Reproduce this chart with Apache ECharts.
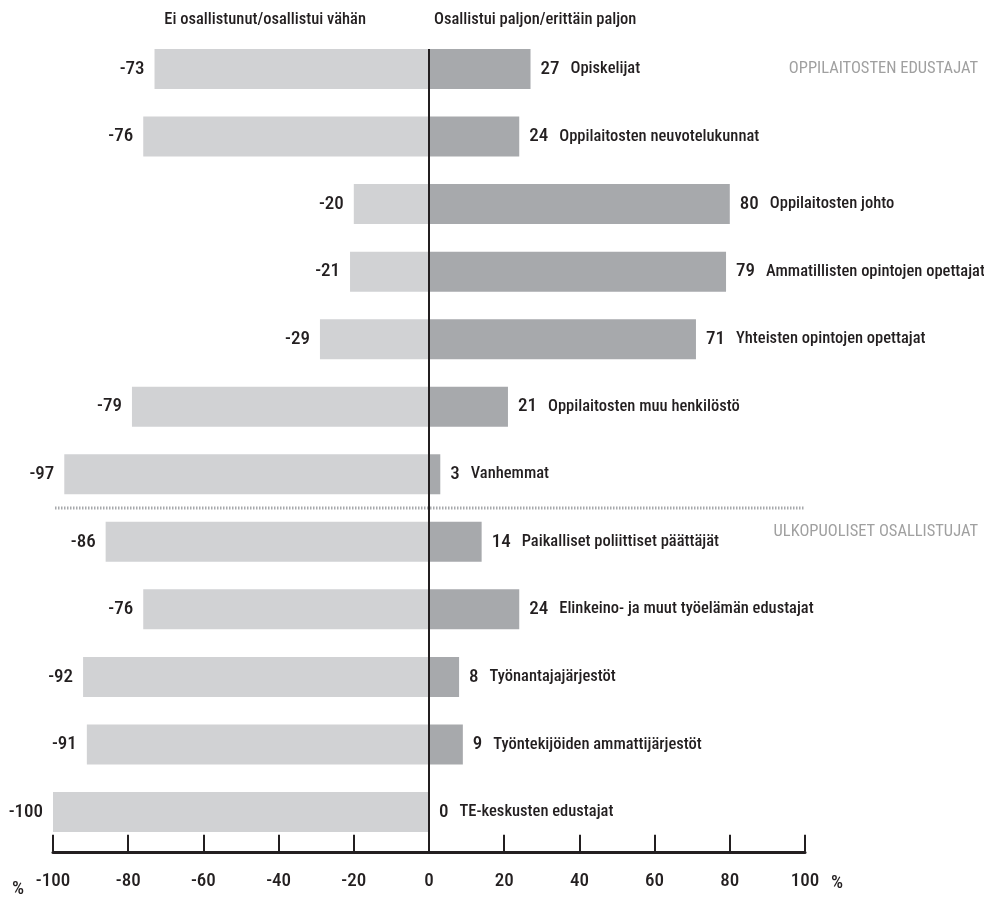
<!DOCTYPE html>
<html>
<head>
<meta charset="utf-8">
<script src="https://cdn.jsdelivr.net/npm/echarts@6/dist/echarts.min.js"></script>
<style>html,body{margin:0;padding:0;background:#fff}#c{width:984px;height:902px}</style>
</head>
<body>
<div id="c"></div>
<script>
var categories = ['Opiskelijat','Oppilaitosten neuvotelukunnat','Oppilaitosten johto','Ammatillisten opintojen opettajat','Yhteisten opintojen opettajat','Oppilaitosten muu henkilöstö','Vanhemmat','Paikalliset poliittiset päättäjät','Elinkeino- ja muut työelämän edustajat','Työnantajajärjestöt','Työntekijöiden ammattijärjestöt','TE-keskusten edustajat'];
var lowValues = [-73,-76,-20,-21,-29,-79,-97,-86,-76,-92,-91,-100];
var highValues = [27,24,80,79,71,21,3,14,24,8,9,0];
var xTicks = [-100,-80,-60,-40,-20,0,20,40,60,80,100];
var headerLow = 'Ei osallistunut/osallistui vähän';
var headerHigh = 'Osallistui paljon/erittäin paljon';
var groupNames = ['OPPILAITOSTEN EDUSTAJAT','ULKOPUOLISET OSALLISTUJAT'];
var groupStart = [0, 7];

var FONT = '"Roboto Condensed","DejaVu Sans Condensed",sans-serif';
var FS = 16.5, FN = 19, FW = 500;
var INK = '#231f20';
var chart = echarts.init(document.getElementById('c'), null, {renderer:'canvas'});
var BAR = 40;
var option = {
  animation:false,
  textStyle:{fontFamily:FONT},
  grid:{left:53, right:179, top:35.25, bottom:56.25, containLabel:false},
  xAxis:{type:'value', min:xTicks[0], max:xTicks[xTicks.length-1], interval:20, offset:6,
    axisLine:{show:true, lineStyle:{color:INK, width:3}},
    axisTick:{show:true, inside:true, length:17, lineStyle:{color:INK, width:2}},
    splitLine:{show:false},
    axisLabel:{margin:20, fontSize:FN, fontWeight:FW, color:INK, fontFamily:FONT}},
  yAxis:{type:'category', data:categories, inverse:true,
    axisLine:{show:false}, axisTick:{show:false}, axisLabel:{show:false}, splitLine:{show:false}},
  series:[
    {type:'bar', data:lowValues, barWidth:BAR, barGap:'-100%', itemStyle:{color:'#d1d2d4'},
     label:{show:true, position:'left', distance:10, fontSize:FN, fontWeight:FW, color:INK, fontFamily:FONT}},
    {type:'bar', data:highValues, barWidth:BAR, barGap:'-100%', itemStyle:{color:'#a7a9ac'},
     label:{show:true, position:'right', distance:10, fontFamily:FONT,
       formatter:function(p){return '{v|'+p.value+'}{n|'+p.name+'}';},
       rich:{v:{fontSize:FN, fontWeight:FW, color:INK, fontFamily:FONT}, n:{fontSize:FS, fontWeight:FW, color:INK, fontFamily:FONT, padding:[0,0,0,11]}}}}
  ]
};
chart.setOption(option);

function px(x, cat){ return chart.convertToPixel({gridIndex:0}, [x, cat]); }
var top0 = px(0, categories[0]);
var axisY = 902 - 56.25 + 6;
var g = [];
g.push({type:'line', shape:{x1:top0[0], y1:top0[1]-BAR/2, x2:top0[0], y2:axisY}, style:{stroke:INK, lineWidth:2}, z:10});
var a = px(-100, categories[groupStart[1]-1]), b = px(100, categories[groupStart[1]]);
var sepY = (a[1]+b[1])/2;
g.push({type:'line', shape:{x1:a[0]+2, y1:sepY, x2:b[0], y2:sepY}, style:{stroke:'#a7a9ac', lineWidth:3, lineDash:[1.5,1.5]}, z:5});
g.push({type:'text', x:978, y:px(0,categories[groupStart[0]])[1], style:{text:groupNames[0], fill:'#a0a0a0', font:'16.5px '+FONT, align:'right', verticalAlign:'middle'}});
g.push({type:'text', x:978, y:px(0,categories[groupStart[1]])[1]-10, style:{text:groupNames[1], fill:'#a0a0a0', font:'16.5px '+FONT, align:'right', verticalAlign:'middle'}});
g.push({type:'text', x:366, y:20, style:{text:headerLow, fill:INK, font:FW+' 16.5px '+FONT, align:'right', verticalAlign:'middle'}});
g.push({type:'text', x:434, y:20, style:{text:headerHigh, fill:INK, font:FW+' 16.5px '+FONT, align:'left', verticalAlign:'middle'}});
var l = px(-100, categories[0]), r = px(100, categories[0]);
g.push({type:'text', x:l[0]-35, y:axisY+37, style:{text:'%', fill:INK, font:FW+' '+FN+'px '+FONT, align:'center', verticalAlign:'middle'}});
g.push({type:'text', x:r[0]+32, y:axisY+31, style:{text:'%', fill:INK, font:FW+' '+FN+'px '+FONT, align:'center', verticalAlign:'middle'}});
chart.setOption({graphic:g});
</script>
</body>
</html>
